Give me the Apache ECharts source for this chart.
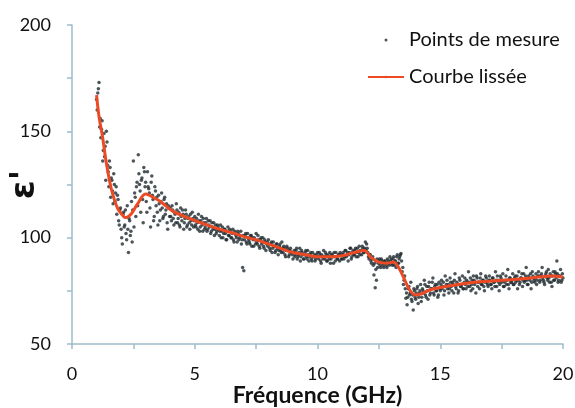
<!DOCTYPE html>
<html>
<head>
<meta charset="utf-8">
<script src="https://cdn.jsdelivr.net/npm/echarts@6/dist/echarts.min.js"></script>
<style>
html,body{margin:0;padding:0;background:#fff;}
#chart{width:575px;height:408px;}
</style>
</head>
<body>
<div id="chart"></div>
<script>
// Measurement sweep (pass A): 1.00 GHz to 20.00 GHz, 0.05 GHz steps
const passAStartGHz = 1.0;
// Measurement sweep (pass B): 1.025 GHz to 19.975 GHz, 0.05 GHz steps
const passBStartGHz = 1.025;
const freqStepGHz = 0.05;

// Pass A measured ε' values (grouped per GHz)
const a1 = [165,168,173,156,151,136,149,143,150,134,124,133,128,122,130,117,124,120,108,113];
const a2 = [104,97,112,106,102,115,93,108,103,98,136,121,110,126,139,125,112,128,107,131];
const a3 = [126,112,124,121,105,129,118,110,122,119,106,116,113,121,109,118,111,116,104,114];
const a4 = [114,108,113,106,111,116,107,112,105,110,113,104,109,111,106,110,104,108,112,105];
const a5 = [110,105,107,111,103,108,106,109,104,107,103,108,105,102,107,104,101,106,103,105];
const a6 = [101,106,103,100,104,102,99,105,101,103,100,104,98,102,100,103,99,101,97,86];
const a7 = [84.5,101,98,102,99,97,101,100,96,99,102,97,99,95,100,98,96,99,94,98];
const a8 = [99,95,97,93,98,96,94,97,92,96,94,98,93,95,91,96,94,92,95,93];
const a9 = [90,94,92,95,91,93,89,94,92,90,93,91,94,89,92,90,93,91,89,92];
const a10 = [93,90,92,88,91,94,90,92,89,91,93,90,92,88,91,93,90,92,89,92];
const a11 = [90,93,91,94,92,89,93,95,91,94,92,95,93,91,96,94,92,95,93,98];
const a12 = [97,93,90,92,88,91,82.5,76.5,80,86,89,87,90,88,86,89,87,90,88,91];
const a13 = [90,87,91,89,86,92,88,91,92.5,84,78,82,71.5,68.5,76,73,79,70,66,75];
const a14 = [71,76,69,74,78,72,75,80,73,77,71,79,74,76,81,73,78,75,72,79];
const a15 = [75,80,77,73,82,78,76,74,81,77,79,74,83,76,78,75,80,77,82,76];
const a16 = [81,76,79,84,77,75,80,82,78,74,81,79,76,83,78,80,75,82,79,77];
const a17 = [82,78,76,81,79,84,77,80,75,82,79,83,77,80,78,85,76,81,79,83];
const a18 = [78,82,80,76,84,79,81,77,83,80,86,78,82,80,76,84,81,79,83,80];
const a19 = [84,79,82,86,80,78,83,81,85,79,82,77,84,80,83,89,79,82,85,80];
const a20 = [81];

// Pass B measured ε' values (grouped per GHz)
const b1 = [160,170,152,147,155,141,138,127,145,131,136,119,127,116,125,121,111,118,106,114];
const b2 = [100,111,105,113,99,104,109,101,117,113,105,119,124,115,130,122,127,118,133,124];
const b3 = [117,131,123,114,126,120,108,124,115,112,120,108,117,114,110,119,113,107,115,110];
const b4 = [110,115,109,112,107,113,109,106,114,108,111,107,113,105,109,107,111,106,109,108];
const b5 = [106,109,104,108,105,110,103,107,105,109,104,106,108,103,105,107,104,102,106,104];
const b6 = [103,100,105,102,104,99,103,101,104,100,102,99,103,101,98,102,100,103,99,101];
const b7 = [99,102,97,100,98,101,96,99,100,97,98,101,96,99,97,100,95,98,97,96];
const b8 = [97,94,98,95,96,93,97,95,94,97,93,95,96,92,94,95,91,94,93,92];
const b9 = [93,91,94,90,92,95,91,93,90,92,94,90,92,91,93,89,91,92,90,91];
const b10 = [91,93,89,92,90,91,93,89,92,90,88,92,91,93,89,91,90,92,93,90];
const b11 = [92,90,94,91,93,92,95,90,93,92,94,91,95,93,92,94,96,93,95,94];
const b12 = [95,91,92,89,90,87,88,85,90,88,90,86,89,87,89,88,86,89,87,89];
const b13 = [88,90,87,89,91,88,90,92,89,86,80,76,74,72,77,74,71,73,76,72];
const b14 = [74,77,72,75,70,76,74,78,72,75,77,73,76,79,74,77,75,78,73,76];
const b15 = [78,76,79,75,77,80,78,76,79,75,78,80,77,79,74,81,77,78,76,79];
const b16 = [78,80,77,79,81,78,76,80,79,82,77,79,81,78,80,77,79,81,78,80];
const b17 = [80,78,81,79,77,80,82,79,78,81,80,77,79,82,80,78,81,79,80,78];
const b18 = [81,79,82,80,78,81,83,80,79,82,80,78,81,83,79,82,80,81,78,82];
const b19 = [82,80,83,81,79,82,84,80,81,83,79,82,80,84,81,83,80,82,79,83];

// Smoothed curve
const curveX = [1.0,1.1,1.25,1.4,1.6,1.85,2.1,2.2,2.4,2.65,3.0,3.3,3.6,4.1,4.8,5.5,6.0,6.6,7.0,7.5,8.0,8.5,9.0,9.5,10.0,10.5,11.0,11.5,11.9,12.2,12.5,12.8,13.1,13.3,13.5,13.75,14.0,14.2,14.6,15.2,16.0,16.6,17.0,17.5,18.0,18.5,19.0,19.5,20.0];
const curveY = [167,157,147,135,123,114,110,109.5,111,115.5,120.5,119,117,112.5,109,106,104,102,100.5,99,97,95,93,92,91,91,91.5,93,94,90.5,88.5,88,88.5,86,81.5,75.5,73,73.5,75.5,77,78.5,79.3,79.5,80,80.3,80.8,81.5,82,81.5];

// Axis ticks
const xTicks = [0,5,10,15,20];
const yTicks = [50,100,150,200];

const passA = [].concat(a1,a2,a3,a4,a5,a6,a7,a8,a9,a10,a11,a12,a13,a14,a15,a16,a17,a18,a19,a20);
const passB = [].concat(b1,b2,b3,b4,b5,b6,b7,b8,b9,b10,b11,b12,b13,b14,b15,b16,b17,b18,b19);
const scatterData = passA.map((v,i)=>[+(passAStartGHz + i*freqStepGHz).toFixed(3), v])
  .concat(passB.map((v,i)=>[+(passBStartGHz + i*freqStepGHz).toFixed(3), v]));
const lineData = curveX.map((x,i)=>[x, curveY[i]]);

const axisColor = '#9dbccc';
const font = 'Lato, "Open Sans", sans-serif';

const chart = echarts.init(document.getElementById('chart'), null, {renderer:'canvas'});
chart.setOption({
  animation:false,
  backgroundColor:'#fff',
  grid:{left:72,right:12,top:25,bottom:64,containLabel:false,outerBoundsMode:'none'},
  legend:{
    orient:'vertical',
    left:367, top:30, padding:0,
    itemWidth:36, itemHeight:3,
    itemGap:17,
    textStyle:{fontFamily:font,fontSize:20,color:'#111',lineHeight:20},
    data:[{name:'Points de mesure',icon:'circle'},{name:'Courbe lissée'}]
  },
  xAxis:{
    type:'value', min:0, max:20, interval:2.5,
    name:'Fréquence (GHz)', nameLocation:'middle', nameGap:40, nameMoveOverlap:false,
    nameTextStyle:{fontFamily:font,fontSize:23,fontWeight:'bold',color:'#111'},
    axisLine:{show:true,lineStyle:{color:axisColor,width:1.5}},
    axisTick:{show:true,length:5,lineStyle:{color:axisColor,width:1.5}},
    axisLabel:{fontFamily:font,fontSize:18,color:'#111',margin:21,
      formatter:v=>xTicks.indexOf(v)>=0?String(v):''},
    splitLine:{show:false}
  },
  yAxis:{
    type:'value', min:50, max:200, interval:25,
    name:"ε'", nameLocation:'middle', nameGap:30, nameRotate:90, nameMoveOverlap:false,
    nameTextStyle:{fontFamily:'"DejaVu Sans", sans-serif',fontSize:34,fontWeight:'bold',color:'#111'},
    axisLine:{show:true,lineStyle:{color:axisColor,width:1.5}},
    axisTick:{show:true,length:5,lineStyle:{color:axisColor,width:1.5}},
    axisLabel:{fontFamily:font,fontSize:18,color:'#111',margin:21,
      formatter:v=>yTicks.indexOf(v)>=0?String(v):''},
    splitLine:{show:false}
  },
  series:[
    {name:'Points de mesure',type:'scatter',data:scatterData,symbol:'circle',symbolSize:3.5,
     itemStyle:{color:'#1f2a30'},z:2},
    {name:'Courbe lissée',type:'line',data:lineData,smooth:0.35,symbol:'none',showSymbol:false,
     lineStyle:{color:'#ec4a24',width:3},itemStyle:{color:'#ec4a24'},z:3}
  ]
});
</script>
</body>
</html>
